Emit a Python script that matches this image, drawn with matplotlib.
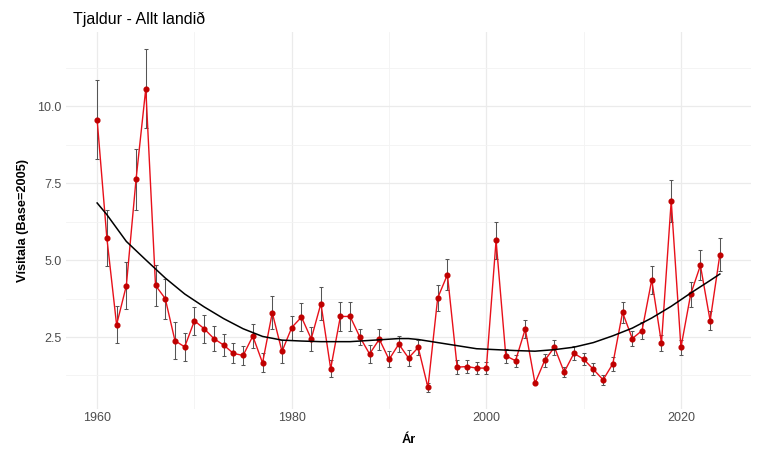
import matplotlib
matplotlib.use("Agg")
import matplotlib.pyplot as plt
from matplotlib.ticker import MultipleLocator

years = list(range(1960, 2025))
index_values = [
    9.57, 5.72, 2.90, 4.17, 7.63, 10.58, 4.18, 3.75, 2.38, 2.18,
    3.03, 2.77, 2.45, 2.24, 1.97, 1.90, 2.53, 1.66, 3.29, 2.03,
    2.81, 3.15, 2.44, 3.59, 1.47, 3.17, 3.17, 2.50, 1.95, 2.43,
    1.77, 2.27, 1.82, 2.16, 0.86, 3.77, 4.53, 1.52, 1.54, 1.49,
    1.49, 5.64, 1.89, 1.73, 2.76, 1.00, 1.74, 2.17, 1.36, 1.97,
    1.78, 1.45, 1.11, 1.63, 3.30, 2.45, 2.71, 4.36, 2.30, 6.93,
    2.16, 3.89, 4.83, 3.03, 5.18,
]
errors = [
    1.28, 0.90, 0.60, 0.77, 0.99, 1.28, 0.67, 0.65, 0.60, 0.46,
    0.46, 0.46, 0.41, 0.37, 0.33, 0.32, 0.39, 0.31, 0.53, 0.38,
    0.39, 0.45, 0.39, 0.53, 0.27, 0.46, 0.46, 0.27, 0.28, 0.34,
    0.26, 0.27, 0.27, 0.26, 0.14, 0.42, 0.50, 0.22, 0.20, 0.20,
    0.20, 0.60, 0.23, 0.20, 0.30, 0.00, 0.21, 0.25, 0.17, 0.23,
    0.20, 0.19, 0.16, 0.22, 0.35, 0.25, 0.27, 0.46, 0.26, 0.68,
    0.26, 0.41, 0.49, 0.31, 0.53,
]
trend_years = [1960, 1961, 1963, 1965, 1967, 1969, 1971, 1973, 1975, 1977,
               1979, 1981, 1983, 1986, 1989, 1991, 1992, 1993, 1995, 1997,
               1999, 2001, 2003, 2005, 2007, 2009, 2011, 2013, 2015, 2017,
               2019, 2021, 2023, 2024]
trend_values = [6.86, 6.48, 5.61, 5.01, 4.42, 3.90, 3.48, 3.10, 2.77, 2.52,
                2.40, 2.37, 2.35, 2.35, 2.41, 2.45, 2.45, 2.42, 2.32, 2.22,
                2.12, 2.09, 2.06, 2.04, 2.09, 2.17, 2.32, 2.54, 2.79, 3.12,
                3.50, 3.93, 4.34, 4.55]

title = "Tjaldur - Allt landið"
xlabel = "Ár"
ylabel = "Vísitala (Base=2005)"

plt.rcParams['font.family'] = ['Liberation Sans', 'DejaVu Sans']

fig = plt.figure(figsize=(7.68, 4.61), dpi=100)
ax = fig.add_axes([66/768, 1 - 409/461, (751 - 66)/768, (409 - 32)/461])

ax.errorbar(years, index_values, yerr=errors, fmt='none', ecolor='#555555',
            elinewidth=0.75, capsize=1.2, capthick=0.75, zorder=2)
ax.plot(years, index_values, color='#e8101a', lw=1.0, zorder=3)
ax.plot(years, index_values, 'o', color='#c00000', ms=3.4, zorder=4)
ax.plot(trend_years, trend_values, color='black', lw=1.1, zorder=5)

ax.set_xlim(1956.8, 2027.2)
ax.set_ylim(0.16, 12.42)
ax.xaxis.set_major_locator(MultipleLocator(20))
ax.xaxis.set_minor_locator(MultipleLocator(10))
ax.yaxis.set_major_locator(MultipleLocator(2.5))
ax.yaxis.set_minor_locator(MultipleLocator(1.25))
ax.yaxis.set_major_formatter(plt.FuncFormatter(lambda v, p: f"{v:.1f}"))

ax.grid(which='major', color='#ebebeb', lw=0.9, zorder=0)
ax.grid(which='minor', color='#f3f3f3', lw=0.6, zorder=0)
ax.set_axisbelow(True)
for s in ax.spines.values():
    s.set_visible(False)
ax.tick_params(which='both', length=0)
ax.tick_params(axis='x', pad=2.5, labelsize=9, labelcolor='#4d4d4d')
ax.tick_params(axis='y', pad=3, labelsize=9, labelcolor='#4d4d4d')

ax.set_xlabel(xlabel, fontsize=9.2, fontweight='bold', labelpad=7)
ax.set_ylabel(ylabel, fontsize=9.2, fontweight='bold', labelpad=6)
fig.text(73/768, 1 - 19/461, title, fontsize=11.5, ha='left', va='center')

fig.savefig("out.png", dpi=100)
